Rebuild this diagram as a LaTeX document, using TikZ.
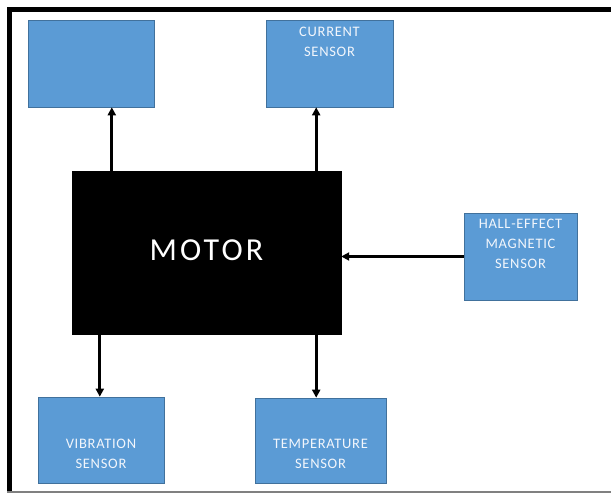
\documentclass[tikz,border=0pt]{standalone}
\usepackage{fontspec}
\setmainfont{Carlito}
\newfontfamily\boxfont{Carlito}[LetterSpace=5]
\newfontfamily\motorfont{Carlito}[LetterSpace=10]
\usetikzlibrary{positioning, arrows.meta, calc}
\definecolor{boxblue}{HTML}{5B9BD5}
\definecolor{boxedge}{HTML}{41719C}
\definecolor{boxtext}{HTML}{F2F6FC}

\begin{document}
\begin{tikzpicture}[x=1pt, y=-1pt, >={Triangle[length=8pt, width=8pt]},
  sens/.style={draw=boxedge, line width=0.6pt, fill=boxblue, inner sep=0pt},
  txt/.style={text=boxtext, align=center, inner sep=2pt,
    font=\boxfont\fontsize{14.5}{20}\selectfont},
  mot/.style={draw=black, fill=black, text=white, inner sep=0pt,
    minimum width=269pt, minimum height=163pt, font=\motorfont\fontsize{32}{36}\selectfont},
  arr/.style={->, line width=3pt}]
  \useasboundingbox (0,0) rectangle (611,494);
  % frame
  \draw[line width=5pt] (9,492) -- (9,10) -- (611,10);
  \draw[gray, line width=1.5pt] (7,492) -- (611,492);
  % motor and sensors
  \node[mot] (motor) at (206.5,252.5) {\raisebox{4pt}{MOTOR}};
  \node[sens, minimum width=126pt, minimum height=87pt] (blank) at (91,63.5) {};
  \node[sens, minimum width=127pt, minimum height=87pt,
    label={[txt, anchor=north, yshift=-5pt]north:{CURRENT\\SENSOR}}] (cur) at (329.5,63.5) {};
  \node[sens, minimum width=113pt, minimum height=87pt,
    label={[txt, anchor=north, yshift=-4pt]north:{HALL-EFFECT\\MAGNETIC\\SENSOR}}] (hall) at (520.5,256.5) {};
  \node[sens, minimum width=126pt, minimum height=86pt,
    label={[txt, anchor=south, yshift=13pt]south:{VIBRATION\\SENSOR}}] (vib) at (101,440) {};
  \node[sens, minimum width=131pt, minimum height=85pt,
    label={[txt, anchor=south, yshift=13pt]south:{TEMPERATURE\\SENSOR}}] (temp) at (320.5,440.5) {};
  % connectors
  \draw[arr] ([xshift=40pt]motor.north west) -- ([xshift=40pt]motor.north west |- blank.south);
  \draw[arr] ([xshift=-25pt]motor.north east) -- ([xshift=-25pt]motor.north east |- cur.south);
  \draw[arr] (hall.west) -- (motor.east |- hall.west);
  \draw[arr] ([xshift=28pt]motor.south west) -- ([xshift=28pt]motor.south west |- vib.north);
  \draw[arr] ([xshift=-25pt]motor.south east) -- ([xshift=-25pt]motor.south east |- temp.north);
\end{tikzpicture}
\end{document}
